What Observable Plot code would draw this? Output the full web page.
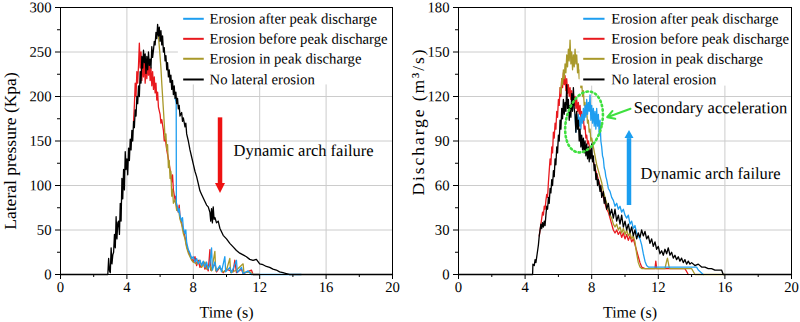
<!DOCTYPE html>
<html>
<head>
<meta charset="utf-8">
<script src="https://cdn.jsdelivr.net/npm/d3@7"></script>
<script src="https://cdn.jsdelivr.net/npm/@observablehq/plot@0.6"></script>
<style>
  body { margin: 0; background: #fff; }
  #wrap { display: flex; width: 800px; height: 322px; }
  #wrap > div { width: 400px; height: 322px; }
  #wrap svg, #wrap svg text { font-family: "Liberation Serif", "Times New Roman", serif !important; }
</style>
</head>
<body>
<div id="wrap"><div id="left"></div><div id="right"></div></div>
<script>
// ---------------- data ----------------
const timeTicks = [0, 4, 8, 12, 16, 20];
const timeMinorTicks = [2, 6, 10, 14, 18];
const pressureTicks = [0, 50, 100, 150, 200, 250, 300];
const pressureMinorTicks = [25, 75, 125, 175, 225, 275];
const dischargeTicks = [0, 30, 60, 90, 120, 150, 180];
const dischargeMinorTicks = [15, 45, 75, 105, 135, 165];
const seriesNames = ["Erosion after peak discharge", "Erosion before peak discharge", "Erosion in peak discharge", "No lateral erosion"];

// Lateral pressure (kPa) vs time (s)
const pressureNoErosion = [[0,0],[2.85,0],[2.9,18],[2.95,4],[3.0,2],[3.05,30],[3.1,12],[3.15,22],[3.2,25],[3.25,45],[3.3,30],[3.35,65],[3.4,40],[3.45,58],[3.5,60],[3.55,45],[3.6,80],[3.65,60],[3.7,108],[3.75,85],[3.8,118],[3.85,95],[3.9,138],[3.95,118],[4.0,130],[4.05,112],[4.1,142],[4.15,128],[4.2,152],[4.25,140],[4.3,162],[4.35,150],[4.4,172],[4.45,165],[4.5,185],[4.55,178],[4.6,200],[4.65,192],[4.7,212],[4.75,200],[4.8,228],[4.85,215],[4.9,245],[4.95,232],[5.0,252],[5.05,238],[5.1,248],[5.15,226],[5.2,245],[5.25,230],[5.3,250],[5.35,235],[5.4,242],[5.45,232],[5.5,256],[5.55,244],[5.6,252],[5.65,262],[5.7,258],[5.75,272],[5.8,265],[5.85,281],[5.9,268],[5.95,278],[6.0,262],[6.05,274],[6.1,258],[6.15,268],[6.2,250],[6.25,255],[6.3,240],[6.35,246],[6.4,230],[6.45,238],[6.5,222],[6.55,230],[6.6,216],[6.65,224],[6.7,208],[6.75,218],[6.8,202],[6.85,212],[6.9,198],[6.95,205],[7.0,192],[7.05,198],[7.1,186],[7.15,190],[7.2,178],[7.3,182],[7.35,172],[7.4,176],[7.5,166],[7.55,170],[7.6,158],[7.7,150],[7.8,140],[7.9,132],[8.0,124],[8.1,116],[8.2,110],[8.3,102],[8.4,94],[8.5,90],[8.6,86],[8.7,82],[8.8,78],[8.9,76],[9.0,70],[9.05,60],[9.1,74],[9.15,58],[9.2,76],[9.25,62],[9.3,64],[9.4,58],[9.5,60],[9.6,52],[9.7,48],[9.8,44],[9.9,42],[10.0,40],[10.2,35],[10.4,31],[10.6,27],[10.8,24],[11.0,22],[11.2,20],[11.4,17],[11.6,16],[11.8,17],[12.0,12],[12.2,11],[12.4,9],[12.6,8],[12.8,6],[13.0,5],[13.2,3],[13.4,2],[13.6,1],[13.8,0],[20,0]];
const pressureBeforePeak = [[4.4,172],[4.45,190],[4.5,215],[4.55,200],[4.6,228],[4.65,215],[4.7,235],[4.75,260],[4.8,232],[4.85,250],[4.9,218],[4.95,240],[5.0,222],[5.05,245],[5.1,215],[5.15,236],[5.2,220],[5.25,238],[5.3,224],[5.35,236],[5.4,218],[5.45,232],[5.5,212],[5.55,228],[5.6,208],[5.65,222],[5.7,204],[5.75,215],[5.8,196],[5.85,205],[5.9,188],[6.0,180],[6.05,170],[6.1,174],[6.2,162],[6.25,150],[6.3,155],[6.4,140],[6.5,130],[6.6,118],[6.7,104],[6.75,112],[6.8,95],[6.9,84],[6.95,88],[7.0,76],[7.1,70],[7.15,78],[7.2,64],[7.3,58],[7.4,50],[7.5,42],[7.6,32],[7.7,26],[7.8,22],[7.9,18],[8.0,14],[8.1,20],[8.2,10],[8.3,16],[8.4,8],[8.6,14],[8.7,6],[8.8,10],[8.9,4],[9.0,28],[9.05,5],[9.3,12],[9.4,3],[9.6,8],[9.8,2],[10.0,6],[10.4,3],[10.5,16],[10.6,2],[10.9,6],[11.0,1],[11.5,5],[11.6,0],[12,0]];
const pressureInPeak = [[5.9,268],[5.97,252],[6.05,232],[6.1,215],[6.2,185],[6.25,170],[6.3,152],[6.35,158],[6.4,140],[6.45,146],[6.5,120],[6.55,128],[6.6,108],[6.65,116],[6.7,88],[6.75,96],[6.8,80],[6.9,84],[7.0,72],[7.1,74],[7.2,62],[7.3,56],[7.4,46],[7.5,40],[7.6,30],[7.7,24],[7.8,20],[7.9,16],[8.0,14],[8.2,12],[8.4,16],[8.5,8],[8.7,14],[8.8,6],[9.0,10],[9.1,4],[9.3,26],[9.35,4],[9.6,8],[9.8,3],[10.0,5],[10.2,18],[10.25,2],[10.6,5],[11.0,12],[11.05,2],[11.4,3],[11.6,0],[12,0]];
const pressureAfterPeak = [[6.9,198],[6.95,195],[6.97,192],[6.98,80],[7.05,76],[7.1,70],[7.15,74],[7.2,66],[7.3,60],[7.35,64],[7.4,52],[7.5,46],[7.55,50],[7.6,36],[7.7,28],[7.8,24],[7.9,18],[8.0,20],[8.1,14],[8.2,18],[8.3,12],[8.4,16],[8.5,10],[8.6,15],[8.7,8],[8.8,14],[8.9,6],[9.0,12],[9.1,30],[9.15,5],[9.3,14],[9.4,4],[9.6,10],[9.7,3],[9.9,20],[9.95,3],[10.2,8],[10.3,2],[10.6,16],[10.65,2],[10.9,8],[11.0,1],[11.3,4],[11.5,0],[14.5,0]];

// Discharge (m3/s) vs time (s)
const dischargeNoErosion = [[0,0],[4.45,0],[4.47,7],[4.55,6],[4.6,10],[4.65,8],[4.7,12],[4.8,20],[4.85,26],[4.9,30],[4.95,34],[5.0,31],[5.05,35],[5.1,32],[5.15,36],[5.2,33],[5.25,40],[5.3,46],[5.35,44],[5.4,52],[5.45,48],[5.5,58],[5.55,55],[5.6,64],[5.65,60],[5.7,70],[5.75,66],[5.8,78],[5.85,74],[5.9,86],[5.95,82],[6.0,94],[6.05,90],[6.1,104],[6.15,98],[6.2,112],[6.25,105],[6.3,118],[6.35,108],[6.4,116],[6.45,110],[6.5,128],[6.55,112],[6.6,118],[6.65,104],[6.7,114],[6.75,106],[6.8,122],[6.85,110],[6.9,126],[6.95,112],[7.0,108],[7.05,96],[7.1,110],[7.15,98],[7.2,104],[7.25,90],[7.3,98],[7.35,86],[7.4,94],[7.45,84],[7.5,92],[7.55,82],[7.6,90],[7.65,80],[7.7,88],[7.75,78],[7.8,86],[7.85,76],[7.9,84],[7.95,78],[8.0,88],[8.05,76],[8.1,80],[8.15,70],[8.2,74],[8.25,64],[8.3,68],[8.35,60],[8.4,64],[8.5,56],[8.55,60],[8.6,52],[8.7,56],[8.75,48],[8.8,52],[8.9,44],[9.0,48],[9.1,40],[9.2,44],[9.3,38],[9.4,44],[9.5,36],[9.6,40],[9.7,34],[9.8,40],[9.9,32],[10.0,36],[10.1,30],[10.2,34],[10.3,28],[10.4,32],[10.5,26],[10.6,30],[10.7,24],[10.8,28],[10.9,25],[11.0,30],[11.1,26],[11.2,29],[11.3,24],[11.4,26],[11.5,21],[11.6,24],[11.7,19],[11.8,22],[11.9,17],[12.0,19],[12.1,14],[12.2,16],[12.3,13],[12.4,17],[12.5,14],[12.6,18],[12.7,13],[12.8,15],[12.9,11],[13.0,13],[13.1,10],[13.2,12],[13.3,9],[13.4,11],[13.5,8],[13.6,10],[13.7,7],[13.8,9],[13.9,7],[14.0,8],[14.2,6],[14.4,7],[14.6,5],[14.8,5],[15.0,4],[15.2,4],[15.4,3],[15.6,3],[15.8,3],[15.9,0],[20,0]];
const dischargeBeforePeak = [[4.85,26],[4.9,30],[5.0,38],[5.05,42],[5.1,40],[5.15,46],[5.2,44],[5.25,50],[5.3,54],[5.35,52],[5.4,62],[5.45,70],[5.5,78],[5.55,74],[5.6,86],[5.65,82],[5.7,96],[5.75,92],[5.8,102],[5.85,98],[5.9,110],[5.95,106],[6.0,118],[6.05,114],[6.1,126],[6.15,120],[6.2,132],[6.25,126],[6.3,136],[6.35,128],[6.4,134],[6.45,124],[6.5,132],[6.55,122],[6.6,128],[6.65,120],[6.7,126],[6.75,118],[6.8,124],[6.85,116],[6.9,122],[6.95,114],[7.0,120],[7.05,112],[7.1,118],[7.15,110],[7.2,116],[7.25,108],[7.3,114],[7.35,106],[7.4,110],[7.45,104],[7.5,106],[7.55,98],[7.6,100],[7.65,92],[7.7,94],[7.75,88],[7.8,90],[7.9,84],[8.0,80],[8.1,76],[8.2,72],[8.3,68],[8.4,64],[8.5,60],[8.6,56],[8.7,52],[8.8,48],[8.9,44],[9.0,42],[9.1,38],[9.2,34],[9.3,30],[9.4,28],[9.5,30],[9.6,27],[9.7,29],[9.8,25],[9.9,28],[10.0,24],[10.1,27],[10.2,23],[10.3,26],[10.4,22],[10.5,24],[10.6,20],[10.7,16],[10.8,12],[10.9,8],[11.0,5],[11.2,4],[11.8,4],[11.85,9],[11.9,4],[13.6,4],[13.7,2],[13.8,0]];
const dischargeInPeak = [[6.1,126],[6.15,122],[6.2,132],[6.25,128],[6.3,138],[6.35,132],[6.4,142],[6.45,136],[6.5,148],[6.55,140],[6.6,152],[6.65,144],[6.7,158],[6.75,142],[6.8,150],[6.85,138],[6.9,148],[6.95,140],[7.0,152],[7.05,142],[7.1,148],[7.15,136],[7.2,142],[7.25,132],[7.3,138],[7.35,126],[7.4,130],[7.45,120],[7.5,124],[7.55,114],[7.6,116],[7.65,108],[7.7,110],[7.75,102],[7.8,104],[7.85,96],[7.9,98],[7.95,90],[8.0,92],[8.1,86],[8.2,80],[8.3,74],[8.4,70],[8.5,66],[8.6,62],[8.7,56],[8.8,52],[8.9,48],[9.0,44],[9.1,40],[9.2,38],[9.3,34],[9.4,32],[9.5,34],[9.6,30],[9.7,32],[9.8,28],[9.9,31],[10.0,27],[10.1,30],[10.2,26],[10.3,28],[10.4,24],[10.5,26],[10.6,22],[10.7,14],[10.8,8],[10.9,5],[11.0,4],[12.4,4],[12.5,9],[12.55,11],[12.65,5],[12.7,4],[14.0,4],[14.1,2],[14.2,0],[16,0]];
const dischargeAfterPeak = [[7.0,108],[7.05,96],[7.1,106],[7.15,100],[7.2,108],[7.25,100],[7.3,106],[7.35,98],[7.4,108],[7.45,102],[7.5,112],[7.55,104],[7.6,114],[7.65,106],[7.7,118],[7.75,108],[7.8,116],[7.85,110],[7.9,121],[7.95,104],[8.0,114],[8.05,102],[8.1,112],[8.15,100],[8.2,110],[8.25,98],[8.3,112],[8.35,100],[8.4,108],[8.45,94],[8.5,104],[8.55,90],[8.6,86],[8.65,80],[8.7,78],[8.75,72],[8.8,70],[8.85,66],[8.9,64],[9.0,58],[9.1,56],[9.2,52],[9.3,50],[9.4,46],[9.5,48],[9.6,44],[9.7,46],[9.8,42],[9.9,44],[10.0,40],[10.1,38],[10.2,40],[10.3,34],[10.4,36],[10.5,31],[10.6,33],[10.7,28],[10.8,26],[10.9,24],[11.0,20],[11.1,14],[11.2,9],[11.3,6],[11.4,5],[14.3,5],[14.4,3],[14.6,1],[14.7,0]];

// ---------------- styles ----------------
const COLORS = {after: "#1e9ef0", before: "#e8191e", inpeak: "#a9992a", none: "#000000"};
const FONT = "Liberation Serif";
const NS = "http://www.w3.org/2000/svg";

function blockArrow(a, color, shaftW, headW, headL) {
  return (index, scales) => {
    const x = scales.x(a.t), y0 = scales.y(a.from), yTip = scales.y(a.to);
    const dir = Math.sign(yTip - y0);
    const yBase = yTip - dir * headL;
    const g = document.createElementNS(NS, "g");
    const l = document.createElementNS(NS, "line");
    l.setAttribute("x1", x); l.setAttribute("x2", x);
    l.setAttribute("y1", y0); l.setAttribute("y2", yBase);
    l.setAttribute("stroke", color); l.setAttribute("stroke-width", shaftW);
    const p = document.createElementNS(NS, "polygon");
    p.setAttribute("points", `${x - headW / 2},${yBase} ${x + headW / 2},${yBase} ${x},${yTip}`);
    p.setAttribute("fill", color);
    g.appendChild(l); g.appendChild(p);
    return g;
  };
}

function makePanel(cfg) {
  const lines = cfg.series.map(s => Plot.line(s.data, {x: d => d[0], y: d => d[1], stroke: s.color, strokeWidth: 1.3}));
  const legendMarks = [];
  cfg.legend.items.forEach((it, i) => {
    const y = cfg.legend.rows[i];
    legendMarks.push(Plot.link([it], {x1: cfg.legend.x1, x2: cfg.legend.x2, y1: y, y2: y, stroke: it.color, strokeWidth: 2}));
    legendMarks.push(Plot.text([it], {x: cfg.legend.tx, y: y, text: d => d.name, textAnchor: "start", lineAnchor: "middle", fontSize: 14.7, fontFamily: FONT, fill: "black"}));
  });
  return Plot.plot({
    width: 400, height: 322,
    marginLeft: cfg.marginLeft, marginRight: cfg.marginRight, marginTop: 7, marginBottom: 48,
    style: {fontFamily: FONT, fontSize: "14.7px", color: "black", background: "white", overflow: "visible"},
    x: {domain: [0, 20]},
    y: {domain: cfg.yDomain},
    marks: [
      Plot.gridX({ticks: timeTicks, stroke: "#cccccc", strokeOpacity: 1}),
      Plot.gridY({ticks: cfg.yTicks, stroke: "#cccccc", strokeOpacity: 1}),
      ...lines,
      Plot.rect([cfg.legend.box], {x1: "x1", x2: "x2", y1: "y1", y2: "y2", fill: "white"}),
      ...legendMarks,
      ...cfg.annotations,
      Plot.axisX({ticks: timeTicks, tickSize: 5, tickPadding: 2, label: null, fontFamily: FONT, fontSize: 14.7, tickFormat: d => String(d)}),
      Plot.axisX({ticks: timeMinorTicks, tickSize: 3, text: null, label: null}),
      Plot.axisY({ticks: cfg.yTicks, tickSize: 5, tickPadding: 4, label: null, fontFamily: FONT, fontSize: 14.7, tickFormat: d => String(d)}),
      Plot.axisY({ticks: cfg.yMinor, tickSize: 3, text: null, label: null}),
      Plot.text(["Time (s)"], {frameAnchor: "bottom", dy: 38, dx: cfg.timeDx, text: d => d, fontSize: 16, fontFamily: FONT, lineAnchor: "middle"}),
      Plot.text([cfg.yLabel], {frameAnchor: "left", rotate: -90, dx: cfg.yLabelDx, dy: cfg.yLabelDy, text: d => d, fontSize: 17.5, fontFamily: FONT, lineAnchor: "middle", textAnchor: "middle"}),
      Plot.frame({stroke: "black", strokeWidth: 1})
    ]
  });
}

const legendNames = seriesNames;

const left = makePanel({
  marginLeft: 60, marginRight: 8,
  yDomain: [0, 300], yTicks: pressureTicks, yMinor: pressureMinorTicks,
  yLabel: "Lateral pressure (Kpa)", yLabelDx: -50, yLabelDy: 10, timeDx: 0,
  series: [
    {data: pressureBeforePeak, color: COLORS.before},
    {data: pressureInPeak, color: COLORS.inpeak},
    {data: pressureAfterPeak, color: COLORS.after},
    {data: pressureNoErosion, color: COLORS.none}
  ],
  legend: {
    box: {x1: 7.1, x2: 20, y1: 213, y2: 300},
    x1: 7.39, x2: 8.63, tx: 8.98,
    rows: [287.3, 264.8, 242.4, 219.1],
    items: [
      {name: legendNames[0], color: COLORS.after},
      {name: legendNames[1], color: COLORS.before},
      {name: legendNames[2], color: COLORS.inpeak},
      {name: legendNames[3], color: COLORS.none}
    ]
  },
  annotations: [
    blockArrow({t: 9.64, from: 176, to: 91}, "#ee1111", 4.5, 10, 10),
    Plot.text(["Dynamic arch failure"], {x: 10.42, y: 139.3, text: d => d, textAnchor: "start", lineAnchor: "middle", fontSize: 16.5, fontFamily: FONT, fill: "black"})
  ]
});

const ellipseSpec = {t: 7.57, v: 102.5};
const ellipseMark = (index, scales) => {
  const cx = scales.x(ellipseSpec.t), cy = scales.y(ellipseSpec.v);
  const e = document.createElementNS(NS, "ellipse");
  e.setAttribute("cx", cx); e.setAttribute("cy", cy);
  e.setAttribute("rx", 18); e.setAttribute("ry", 31);
  e.setAttribute("transform", `rotate(13 ${cx} ${cy})`);
  e.setAttribute("fill", "none");
  e.setAttribute("stroke", "#3fe03f");
  e.setAttribute("stroke-width", 2.6);
  e.setAttribute("stroke-dasharray", "1.5 3");
  e.setAttribute("stroke-linecap", "round");
  return e;
};

const right = makePanel({
  marginLeft: 58, marginRight: 9,
  yDomain: [0, 180], yTicks: dischargeTicks, yMinor: dischargeMinorTicks,
  yLabel: "Discharge (m³/s)", yLabelDx: -40.5, yLabelDy: -18.5, timeDx: 5,
  series: [
    {data: dischargeBeforePeak, color: COLORS.before},
    {data: dischargeInPeak, color: COLORS.inpeak},
    {data: dischargeAfterPeak, color: COLORS.after},
    {data: dischargeNoErosion, color: COLORS.none}
  ],
  legend: {
    box: {x1: 7.3, x2: 20, y1: 127, y2: 180},
    x1: 7.49, x2: 8.77, tx: 9.17,
    rows: [172.4, 158.9, 145.4, 131.5],
    items: [
      {name: legendNames[0], color: COLORS.after},
      {name: legendNames[1], color: COLORS.before},
      {name: legendNames[2], color: COLORS.inpeak},
      {name: legendNames[3], color: COLORS.none}
    ]
  },
  annotations: [
    ellipseMark,
    Plot.arrow([{x1: 10.33, y1: 111.7, x2: 8.93, y2: 106}], {x1: "x1", y1: "y1", x2: "x2", y2: "y2", stroke: "#3fe03f", strokeWidth: 2, headLength: 9}),
    Plot.text(["Secondary acceleration"], {x: 10.53, y: 112.4, text: d => d, textAnchor: "start", lineAnchor: "middle", fontSize: 16.5, fontFamily: FONT, fill: "black"}),
    blockArrow({t: 10.27, from: 46.5, to: 97}, "#1a9ef0", 4.5, 9, 8),
    Plot.text(["Dynamic arch failure"], {x: 10.93, y: 68.1, text: d => d, textAnchor: "start", lineAnchor: "middle", fontSize: 16.5, fontFamily: FONT, fill: "black"})
  ]
});

document.getElementById("left").appendChild(left);
document.getElementById("right").appendChild(right);

// all text: tiny rotation so glyphs are drawn as outlines (no hinting); stretch the discharge label
[left, right].forEach(svg => svg.querySelectorAll("text").forEach(t => {
  const tr = t.getAttribute("transform") || "";
  if (!/rotate/.test(tr)) t.setAttribute("transform", (tr + " rotate(0.05)").trim());
  if (t.textContent === "Discharge (m³/s)") {
    t.setAttribute("textLength", 146);
    t.setAttribute("lengthAdjust", "spacing");
  }
}));
</script>
</body>
</html>
